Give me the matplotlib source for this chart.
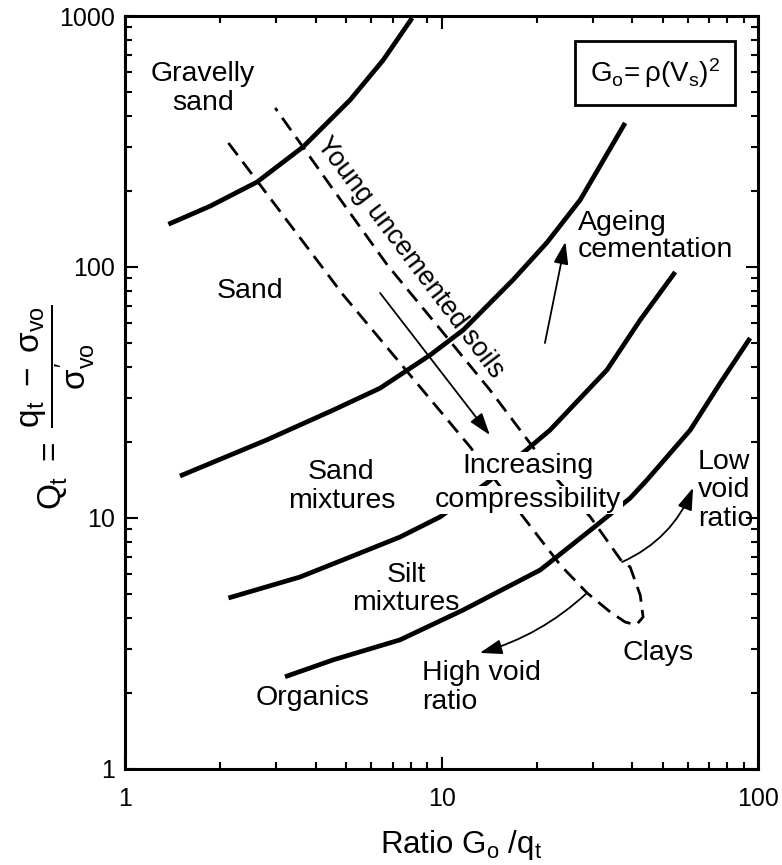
import matplotlib.pyplot as plt
from matplotlib.ticker import NullFormatter

plt.rcParams['font.family'] = 'Liberation Sans'
plt.rcParams['mathtext.fontset'] = 'custom'
plt.rcParams['mathtext.rm'] = 'Liberation Sans'
plt.rcParams['mathtext.it'] = 'Liberation Sans'
plt.rcParams['mathtext.bf'] = 'Liberation Sans:bold'

# boundary curves between soil types: x = Go/qt, y = Qt
curve1_x = [1.37, 1.86, 2.61, 3.65, 5.14, 6.54, 8.07]
curve1_y = [148, 175, 218, 301, 463, 668, 982]

curve2_x = [1.49, 2.81, 4.54, 6.39, 9.20, 11.7, 16.8, 21.5, 27.4, 38.0]
curve2_y = [14.7, 20.5, 26.9, 32.9, 44.6, 56.1, 88.8, 125, 185, 375]

curve3_x = [2.12, 3.57, 5.14, 7.39, 9.89, 14.0, 18.1, 22.0, 33.3, 42.4, 54.7]
curve3_y = [4.80, 5.82, 6.99, 8.40, 10.1, 13.9, 18.2, 22.4, 38.9, 61.5, 95.5]

curve4_x = [3.20, 4.54, 7.39, 11.7, 20.5, 30.1, 39.4, 44.6, 61.0, 75.9, 94.3]
curve4_y = [2.33, 2.72, 3.27, 4.30, 6.21, 9.12, 12.0, 14.2, 22.4, 34.5, 52.1]

# dashed band of young uncemented soils, closing in the clay zone
band_x = [2.12, 4.89, 12.3, 18.1, 23.7, 28.8, 34.1, 38.0, 41.2, 43.3, 42.4,
          39.4, 37.2, 29.5, 23.2, 19.0, 14.2, 9.89, 6.73, 4.44, 2.98]
band_y = [312, 77.3, 19.2, 10.1, 6.50, 5.03, 4.22, 3.85, 3.75, 4.03, 4.93,
          6.38, 6.68, 10.1, 14.2, 19.9, 32.4, 56.6, 102, 212, 430]

# arrows: (tail, head)
compress_arrow = [(6.39, 78.8), (14.2, 21.4)]
ageing_arrow = [(21.2, 49.8), (24.6, 126)]
low_void_arrow = [(37.2, 6.68), (62.3, 13.2)]
high_void_arrow = [(28.8, 5.03), (13.2, 2.90)]

x_ticks = [1, 10, 100]
y_ticks = [1, 10, 100, 1000]

fig = plt.figure(figsize=(7.82, 8.65), dpi=100)
ax = fig.add_axes([0.160, 0.111, 0.8095, 0.8705])
ax.set_xscale('log')
ax.set_yscale('log')
ax.set_xlim(1, 100)
ax.set_ylim(1, 1000)

for cx, cy in [(curve1_x, curve1_y), (curve2_x, curve2_y),
               (curve3_x, curve3_y), (curve4_x, curve4_y)]:
    ax.plot(cx, cy, color='black', lw=3.4, solid_capstyle='butt',
            solid_joinstyle='round', zorder=2)

ax.plot(band_x, band_y, color='black', lw=2, dashes=(5.5, 3), zorder=2)

arrow_style = '-|>,head_length=0.9,head_width=0.3'
ax.annotate('', xy=compress_arrow[1], xytext=compress_arrow[0],
            arrowprops=dict(arrowstyle=arrow_style, lw=1.3, color='black',
                            mutation_scale=15, shrinkA=0, shrinkB=0))
ax.annotate('', xy=ageing_arrow[1], xytext=ageing_arrow[0],
            arrowprops=dict(arrowstyle=arrow_style, lw=1.3, color='black',
                            mutation_scale=15, shrinkA=0, shrinkB=0))
ax.annotate('', xy=low_void_arrow[1], xytext=low_void_arrow[0],
            arrowprops=dict(arrowstyle=arrow_style, lw=1.3, color='black',
                            mutation_scale=15, shrinkA=0, shrinkB=0,
                            connectionstyle='arc3,rad=0.2'))
ax.annotate('', xy=high_void_arrow[1], xytext=high_void_arrow[0],
            arrowprops=dict(arrowstyle=arrow_style, lw=1.3, color='black',
                            mutation_scale=15, shrinkA=0, shrinkB=0,
                            connectionstyle='arc3,rad=-0.12'))

fs = 20.5
ls = 1.12
ax.text(1.76, 514, 'Gravelly\nsand', fontsize=fs, ha='center', va='center', linespacing=ls)
ax.text(2.48, 80.2, 'Sand', fontsize=fs, ha='center', va='center')
ax.text(4.82, 13.35, 'Sand\nmixtures', fontsize=fs, ha='center', va='center', linespacing=ls)
ax.text(7.72, 5.21, 'Silt\nmixtures', fontsize=fs, ha='center', va='center', linespacing=ls)
ax.text(3.90, 1.92, 'Organics', fontsize=fs, ha='center', va='center')
ax.text(8.68, 2.11, 'High void\nratio', fontsize=fs, ha='left', va='center', linespacing=ls)
ax.text(48.3, 2.90, 'Clays', fontsize=fs, ha='center', va='center')
ax.text(64.6, 12.9, 'Low\nvoid\nratio', fontsize=fs, ha='left', va='center', linespacing=ls)
ax.text(27.0, 132, 'Ageing\ncementation', fontsize=fs, ha='left', va='center', linespacing=1.05)
white = dict(facecolor='white', edgecolor='none', pad=1)
ax.text(18.8, 15.1, 'Increasing', fontsize=fs, ha='center', va='baseline', bbox=white, zorder=3)
ax.text(18.8, 11.06, 'compressibility', fontsize=fs, ha='center', va='baseline', bbox=white, zorder=3)
ax.text(7.95, 108.6, 'Young uncemented soils', fontsize=19.5, ha='center', va='center',
        rotation=-53, rotation_mode='anchor')

ax.text(0.837, 0.924, r'$G_o\!=\rho(V_s)^2$', transform=ax.transAxes, fontsize=20,
        ha='center', va='center',
        bbox=dict(boxstyle='square,pad=0.55', facecolor='white', edgecolor='black', lw=2))

ax.set_xticks(x_ticks)
ax.set_xticklabels([str(v) for v in x_ticks])
ax.set_yticks(y_ticks)
ax.set_yticklabels([str(v) for v in y_ticks])
ax.xaxis.set_minor_formatter(NullFormatter())
ax.yaxis.set_minor_formatter(NullFormatter())
ax.tick_params(which='both', direction='in', top=True, right=True, width=1.5)
ax.tick_params(which='major', length=9, labelsize=18)
ax.tick_params(which='minor', length=5)
ax.tick_params(axis='x', which='major', pad=13)
ax.tick_params(axis='y', which='major', pad=7)
for sp in ax.spines.values():
    sp.set_linewidth(2.2)

ax.set_xlabel(r'Ratio G$_o$ /q$_t$', fontsize=22.5, va='baseline')
ax.xaxis.set_label_coords(0.531, -0.1116)
ax.set_ylabel(r'$Q_t\ =\ \dfrac{q_t\ -\ \sigma_{vo}}{\sigma^{\prime}_{vo}}$', fontsize=24)
ax.yaxis.set_label_coords(-0.044, 0.481)

fig.savefig('out.png', dpi=100)
